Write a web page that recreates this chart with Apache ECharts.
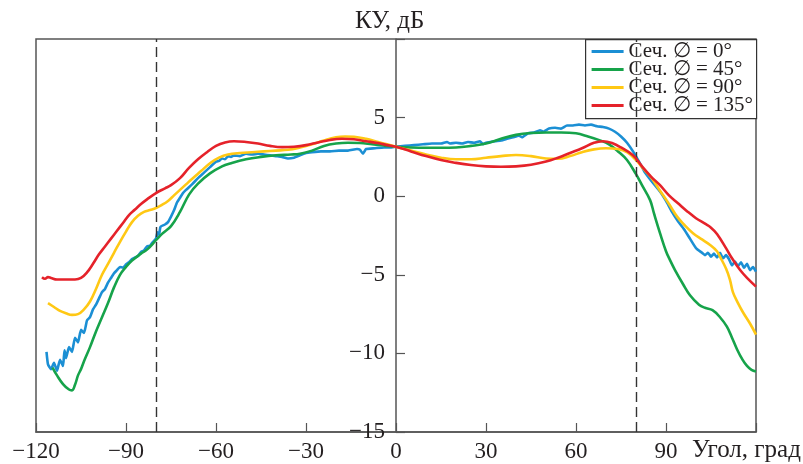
<!DOCTYPE html>
<html>
<head>
<meta charset="utf-8">
<script src="https://cdn.jsdelivr.net/npm/echarts@6/dist/echarts.min.js"></script>
<style>html,body{margin:0;padding:0;background:#fff}#c{width:803px;height:464px}</style>
</head>
<body>
<div id="c"></div>
<script>
const seriesNames = ['Сеч. ∅ = 0°', 'Сеч. ∅ = 45°', 'Сеч. ∅ = 90°', 'Сеч. ∅ = 135°'];
const xTicks = [-120, -90, -60, -30, 0, 30, 60, 90];
const yTicks = [-15, -10, -5, 0, 5];
const markerAngles = [-80, 80];

const blue = [
[-116.5,-9.9],[-116,-10.7],[-115,-11.0],[-114,-10.6],[-113,-11.1],[-112,-10.4],[-111,-10.8],[-110.5,-9.8],[-110,-10.3],
[-109,-9.6],[-108,-9.9],[-107,-9.0],[-106,-9.3],[-105,-8.5],[-104,-8.7],[-103,-7.9],[-102,-7.7],[-101,-7.2],[-100,-6.9],
[-99,-6.5],[-98,-6.1],[-97,-5.9],[-96,-5.5],[-95,-5.2],[-94,-4.9],[-93,-4.7],[-92,-4.5],[-91,-4.55],[-90,-4.35],[-89,-4.2],
[-88,-4.0],[-86,-3.8],[-85,-3.55],[-84,-3.45],[-83,-3.2],[-82,-3.15],[-81,-2.9],[-80,-2.7],[-79.5,-2.3],[-79,-2.45],
[-78.5,-1.95],[-77,-1.8],[-76,-1.65],[-75,-1.3],[-74,-0.9],[-73,-0.4],[-72,-0.1],[-71,0.2],[-70,0.4],[-68,0.75],
[-66,1.15],[-64,1.5],[-62,1.85],[-60,2.2],[-59,2.25],[-58,2.4],[-57,2.35],[-56,2.55],[-55,2.5],[-54,2.6],[-52,2.55],
[-50,2.7],[-48,2.65],[-46,2.7],[-44,2.65],[-42,2.6],[-40,2.55],[-38,2.5],[-36,2.4],[-34,2.45],[-32,2.6],[-30,2.75],
[-28,2.8],[-25,2.85],[-22,2.85],[-19,2.9],[-16,2.9],[-13,3.0],[-12,2.95],[-11,2.7],[-10.5,2.85],[-10,3.0],[-7,3.05],
[-4,3.1],[-2,3.1],[0,3.15],[3,3.2],[6,3.25],[9,3.3],[12,3.35],[15,3.35],[17,3.45],[18,3.35],[20,3.4],[22,3.35],[24,3.45],
[26,3.4],[28,3.5],[29,3.3],[30,3.4],[33,3.5],[35,3.55],[37,3.65],[39,3.75],[41,3.85],[42,3.75],[44,4.0],[46,4.05],
[48,4.2],[49,4.1],[51,4.3],[53,4.35],[55,4.3],[57,4.5],[59,4.5],[61,4.55],[63,4.5],[65,4.55],[67,4.45],[69,4.4],
[71,4.3],[73,4.1],[75,3.8],[77,3.4],[79,2.85],[81,2.2],[83,1.5],[85,1.0],[88,0.3],[90,-0.3],[92,-1.0],[94,-1.6],
[96,-2.1],[98,-2.7],[100,-3.3],[102,-3.6],[103,-3.75],[104,-3.6],[105,-3.85],[106,-3.65],[107,-3.9],[108,-3.6],
[109,-3.95],[110,-3.75],[111,-4.0],[112,-4.4],[113,-4.15],[114,-4.45],[115,-4.2],[116,-4.55],[117,-4.3],[118,-4.7],
[119,-4.5],[120,-4.8]
];
const green = [
[-114.5,-10.9],[-113,-11.4],[-111,-11.95],[-109,-12.3],[-108,-12.35],[-107,-12.0],[-106,-11.4],[-105,-11.0],[-104,-10.5],
[-102,-9.6],[-100,-8.6],[-98,-7.7],[-96,-6.8],[-94,-5.8],[-92,-5.0],[-90,-4.5],[-88,-4.1],[-85,-3.65],[-83,-3.4],
[-80,-2.8],[-78,-2.4],[-75,-1.9],[-72,-1.0],[-69,0.1],[-66,0.8],[-62,1.45],[-58,1.9],[-55,2.1],[-50,2.35],[-45,2.5],
[-40,2.6],[-35,2.65],[-32,2.7],[-28,2.9],[-24,3.2],[-20,3.35],[-16,3.4],[-12,3.38],[-8,3.3],[-4,3.22],[0,3.15],
[5,3.1],[10,3.08],[15,3.08],[20,3.1],[25,3.2],[30,3.35],[35,3.65],[40,3.9],[45,4.02],[50,4.05],[55,4.05],[60,4.0],
[64,3.8],[68,3.55],[71,3.3],[74,2.85],[77,2.3],[80,1.4],[82,0.7],[84.7,-0.25],[86,-1.1],[88,-2.35],[90,-3.5],
[91.3,-4.05],[93,-4.7],[95.7,-5.6],[98,-6.3],[101,-6.9],[103,-7.1],[105.5,-7.25],[108,-7.7],[110.3,-8.3],[112,-9.0],
[113.7,-9.75],[115.5,-10.4],[117,-10.8],[118.5,-11.05],[120,-11.15]
];
const yellow = [
[-116,-6.8],[-114,-7.05],[-112,-7.3],[-110,-7.45],[-108,-7.55],[-106,-7.5],[-104,-7.2],[-102,-6.7],[-100,-5.9],
[-98,-5.0],[-96,-4.3],[-94,-3.6],[-92,-2.9],[-90,-2.25],[-88,-1.65],[-86,-1.25],[-84,-1.0],[-82,-0.88],[-80,-0.75],
[-78,-0.55],[-76,-0.3],[-74,0.05],[-72,0.4],[-70,0.75],[-68,1.1],[-65,1.6],[-62,2.1],[-59,2.45],[-56,2.65],[-52,2.75],
[-48,2.8],[-44,2.85],[-40,2.9],[-36,2.95],[-32,3.1],[-28,3.3],[-24,3.55],[-20,3.75],[-17,3.8],[-14,3.78],[-10,3.65],
[-6,3.45],[-3,3.3],[0,3.15],[5,2.9],[10,2.65],[15,2.45],[20,2.35],[25,2.35],[30,2.45],[35,2.55],[40,2.62],[45,2.55],
[50,2.4],[54,2.38],[58,2.55],[62,2.8],[66,2.98],[70,3.05],[74,3.0],[77,2.8],[80,2.3],[82,1.85],[85,1.2],[88,0.35],
[91,-0.5],[93.7,-1.3],[96,-1.8],[99,-2.35],[102,-2.75],[104.7,-3.1],[107,-3.5],[108,-3.85],[110,-4.6],[111.3,-5.3],
[112.3,-6.1],[114,-6.8],[115.7,-7.4],[118,-8.1],[120,-8.8]
];
const red = [
[-118,-5.15],[-117,-5.25],[-116,-5.15],[-115,-5.2],[-113,-5.3],[-111,-5.3],[-109,-5.3],[-107,-5.3],[-105,-5.2],
[-103,-4.85],[-101,-4.3],[-99,-3.7],[-97,-3.2],[-95,-2.7],[-93,-2.2],[-91,-1.7],[-89,-1.2],[-87,-0.85],[-85,-0.5],
[-83,-0.2],[-80,0.2],[-77,0.5],[-75,0.7],[-72,1.15],[-69,1.8],[-66,2.35],[-63,2.8],[-60,3.2],[-57,3.42],[-54,3.5],
[-50,3.45],[-46,3.35],[-42,3.2],[-38,3.12],[-34,3.15],[-30,3.25],[-26,3.42],[-22,3.58],[-18,3.65],[-14,3.62],
[-10,3.5],[-6,3.38],[-3,3.25],[0,3.15],[5,2.85],[10,2.55],[15,2.3],[20,2.12],[25,1.98],[30,1.9],[35,1.87],[40,1.9],
[45,2.0],[50,2.2],[54,2.45],[58,2.75],[62,3.05],[66,3.4],[69,3.5],[72,3.38],[75,3.1],[79,2.6],[82,1.9],[85,1.25],
[88,0.7],[91,0.05],[94,-0.45],[97,-0.95],[100,-1.4],[103,-1.75],[105,-2.0],[107,-2.4],[110,-3.3],[112,-3.95],
[114.7,-4.7],[117,-5.2],[120,-5.75]
];

const seriesData = [blue, green, yellow, red];
const colors = ['#1b8fd4', '#16a34a', '#ffc814', '#e5222a'];
const FONT = '"Liberation Serif", "Times New Roman", serif';
const TXT = '#231f20';
const AX = '#555';
const minus = v => (v < 0 ? '\u2212' + Math.abs(v) : String(v));

// legend box built from the series names / colours
const legendChildren = [
  {type: 'rect', shape: {x: 0, y: 0, width: 171, height: 79},
   style: {fill: '#fff', stroke: '#333', lineWidth: 1.2}}
];
seriesNames.forEach((n, i) => {
  legendChildren.push({type: 'line', shape: {x1: 6, y1: 12 + 18 * i, x2: 38, y2: 12 + 18 * i},
                       style: {stroke: colors[i], lineWidth: 3}});
  legendChildren.push({type: 'text', x: 43, y: 12 + 18 * i,
                       style: {text: n, font: '21px ' + FONT, fill: TXT, textVerticalAlign: 'middle', verticalAlign: 'middle'}});
});

const chart = echarts.init(document.getElementById('c'), null, {renderer: 'canvas'});
chart.setOption({
  animation: false,
  backgroundColor: '#fff',
  grid: {left: 36, right: 47, top: 39, bottom: 32, show: true, borderColor: AX, borderWidth: 1.5,
         backgroundColor: 'transparent', containLabel: false, outerBoundsMode: 'none'},
  xAxis: {
    type: 'value', min: -120, max: 120, interval: 30,
    axisLine: {show: true, onZero: false, lineStyle: {color: AX, width: 1.5}},
    axisTick: {show: true, inside: true, length: 9, lineStyle: {color: AX, width: 1.2}},
    axisLabel: {
      margin: 8, fontFamily: FONT, fontSize: 23, color: TXT,
      formatter: v => (xTicks.indexOf(v) >= 0 ? minus(v) : '')
    },
    splitLine: {show: false}
  },
  yAxis: {
    type: 'value', min: -15, max: 10, interval: 5, position: 'left', offset: -360,
    axisLine: {show: true, onZero: false, lineStyle: {color: AX, width: 1.5}},
    axisTick: {show: true, inside: true, length: 9, lineStyle: {color: AX, width: 1.2}},
    axisLabel: {
      margin: 11, fontFamily: FONT, fontSize: 23, color: TXT,
      formatter: v => (yTicks.indexOf(v) >= 0 ? minus(v) : '')
    },
    splitLine: {show: false}
  },
  legend: {show: false},
  graphic: [
    {type: 'text', left: 355, top: 9, style: {text: 'КУ, дБ', font: '25px ' + FONT, fill: TXT}},
    {type: 'text', left: 692, top: 438, style: {text: 'Угол, град', font: '25px ' + FONT, fill: TXT}},
    {type: 'group', left: 585, top: 39, z: 100, children: legendChildren}
  ],
  series: seriesNames.map((name, i) => ({
    name: name, type: 'line', data: seriesData[i], showSymbol: false, symbol: 'none',
    smooth: i === 0 ? 0.15 : 0.4, color: colors[i],
    lineStyle: {color: colors[i], width: 2.6}, z: 2 + i,
    markLine: i === 0 ? {
      silent: true, symbol: ['none', 'none'], label: {show: false},
      lineStyle: {color: '#333', width: 1.4, type: [10, 5]},
      data: markerAngles.map(a => ({xAxis: a}))
    } : undefined
  }))
});
</script>
</body>
</html>
